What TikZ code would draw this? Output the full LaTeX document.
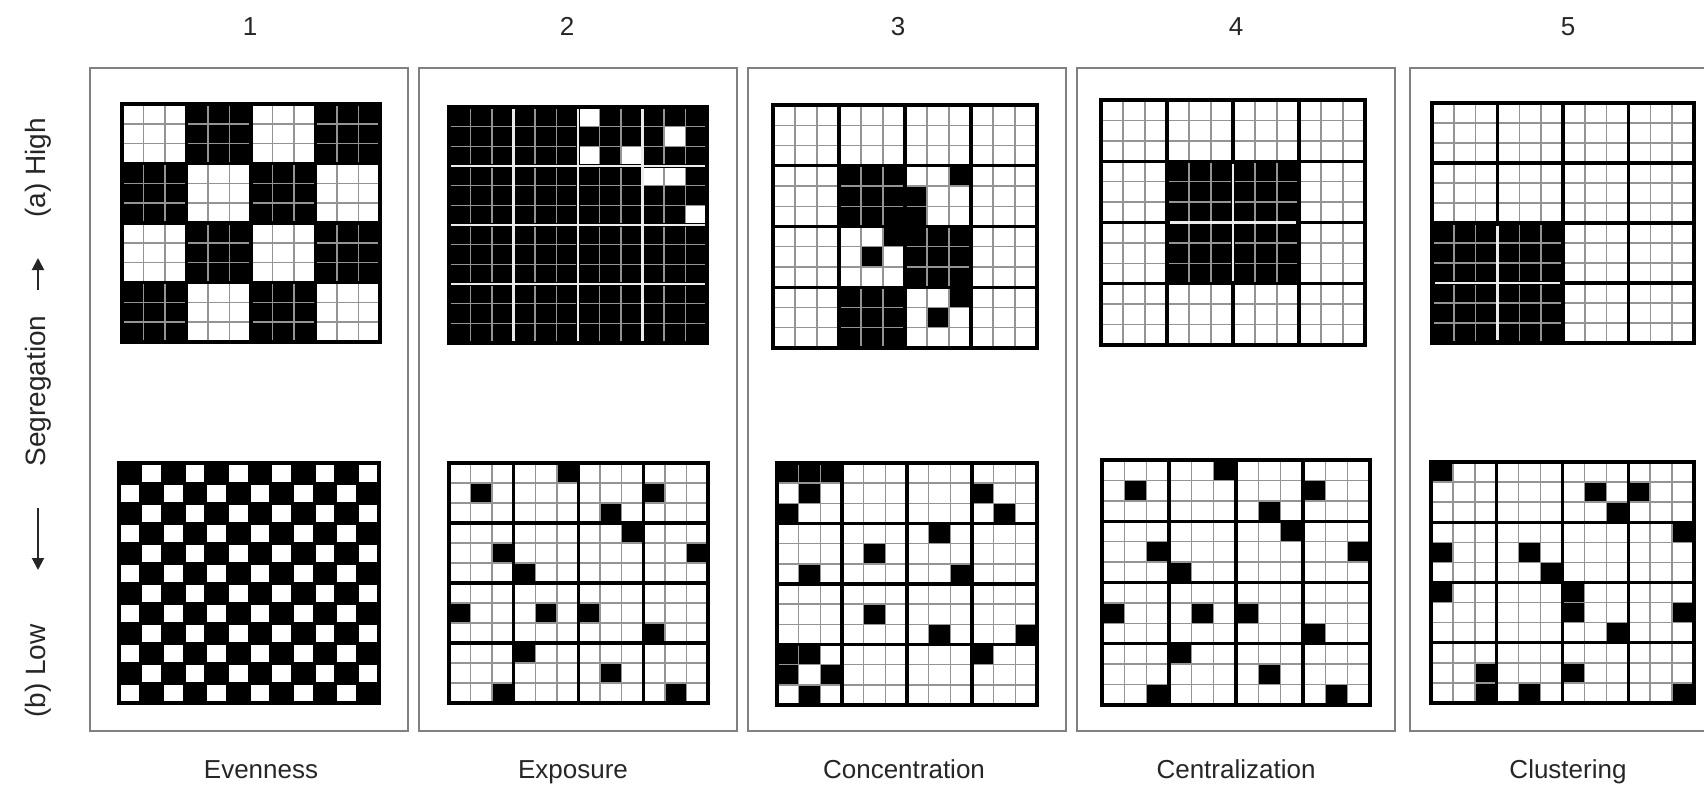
\documentclass[tikz,border=0pt]{standalone}
\usepackage{fontspec}
\setmainfont{Liberation Sans}
\usetikzlibrary{arrows.meta}

\tikzset{
  panel/.style={draw=black!50, line width=1.8pt, inner sep=0pt, anchor=north west},
  lbl/.style={font=\fontsize{26}{30}\selectfont, text=black!85, inner sep=0pt, anchor=base},
  vlbl/.style={font=\fontsize{28}{32}\selectfont, text=black!85, inner sep=0pt, rotate=90},
  cellline/.style={draw=black!42, line width=1.4pt},
  blockline/.style={draw=black, line width=3.2pt},
  gapline/.style={draw=white!92!black, line width=2.6pt},
  outerline/.style={draw=black, line width=3.6pt},
  segarrow/.style={draw=black!85, line width=2pt, -{Triangle[length=12pt,width=12pt]}},
}

\newcommand{\blkrect}[1]{\foreach \ra/\ca/\rb/\cb in {#1}{\fill[black] (\ca,\ra) rectangle (\cb,\rb);}}
\newcommand{\blkcell}[1]{\foreach \ra/\ca in {#1}{\fill[black] (\ca,\ra) rectangle ++(1,1);}}
\newcommand{\whtcell}[1]{\foreach \ra/\ca in {#1}{\fill[white] (\ca,\ra) rectangle ++(1,1);}}

% #1 x0, #2 y0, #3 x1, #4 y1, #5 scope options, #6 fills, #7 extra drawing after block lines
\newcommand{\cellgrid}[7]{%
  \pgfmathsetmacro\gcw{(#3-#1)/12}%
  \pgfmathsetmacro\gch{(#4-#2)/12}%
  \begin{scope}[shift={(#1,#2)}, x=\gcw pt, y=-\gch pt, #5]
    \fill[white] (0,0) rectangle (12,12);
    #6
    \foreach \i in {1,2,4,5,7,8,10,11} {\draw[cellline] (\i,0) -- (\i,12); \draw[cellline] (0,\i) -- (12,\i);}
    \foreach \i in {3,6,9} {\draw[blockline] (\i,0) -- (\i,12); \draw[blockline] (0,\i) -- (12,\i);}
    #7
    \draw[outerline] (0,0) rectangle (12,12);
  \end{scope}%
}

\begin{document}
\begin{tikzpicture}[x=1pt, y=-1pt]
\useasboundingbox (0,0) rectangle (1704,789);
\fill[white] (0,0) rectangle (1704,789);

% panels
\node[panel, minimum width=318pt, minimum height=663pt] (p1) at (89,67) {};
\node[panel, minimum width=318pt, minimum height=663pt] (p2) at (418,67) {};
\node[panel, minimum width=318pt, minimum height=663pt] (p3) at (747,67) {};
\node[panel, minimum width=318pt, minimum height=663pt] (p4) at (1076,67) {};
\node[panel, minimum width=318pt, minimum height=663pt] (p5) at (1409,67) {};

% column numbers
\node[lbl] (n1) at (250,36) {1};
\node[lbl] (n2) at (567,36) {2};
\node[lbl] (n3) at (898,36) {3};
\node[lbl] (n4) at (1236,36) {4};
\node[lbl] (n5) at (1568,36) {5};

% bottom labels
\node[lbl] (l1) at (261,778) {Evenness};
\node[lbl] (l2) at (573,778) {Exposure};
\node[lbl] (l3) at (904,778) {Concentration};
\node[lbl] (l4) at (1236,778) {Centralization};
\node[lbl] (l5) at (1568,778) {Clustering};

% left axis label
\node[vlbl] (high) at (38,168) {(a) High};
\node[vlbl] (seg) at (38,391) {Segregation};
\node[vlbl] (low) at (38,671) {(b) Low};
\coordinate (upS) at (38,290);
\coordinate (upE) at (38,258);
\coordinate (dnS) at (38,508);
\coordinate (dnE) at (38,570);
\draw[segarrow] (upS) -- (upE);
\draw[segarrow] (dnS) -- (dnE);

% ---------- top row (a) High ----------
% 1 Evenness
\cellgrid{122}{104}{380}{342}{}{%
  \blkrect{0/3/3/6, 0/9/3/12, 3/0/6/3, 3/6/6/9, 6/3/9/6, 6/9/9/12, 9/0/12/3, 9/6/12/9}%
}{}
% 2 Exposure
\cellgrid{449}{107}{707}{343}{}{%
  \blkrect{0/0/12/12}%
  \whtcell{0/6, 2/6, 2/8, 1/10, 3/9, 3/10, 5/11}%
}{%
  \foreach \i in {3,6,9} {\draw[gapline] (\i,0) -- (\i,12); \draw[gapline] (0,\i) -- (12,\i);}%
}
% 3 Concentration
\cellgrid{773}{105}{1037}{348}{}{%
  \blkrect{3/3/6/6, 6/6/9/9, 9/3/12/6}%
  \blkcell{3/8, 4/6, 5/6, 6/5, 7/4, 9/8, 10/7}%
}{}
% 4 Centralization
\cellgrid{1101}{100}{1365}{345}{}{%
  \blkrect{3/3/9/9}%
}{%
  \draw[gapline, shorten <=3pt, shorten >=3pt] (6,3) -- (6,9);
  \draw[gapline, shorten <=3pt, shorten >=3pt] (3,6) -- (9,6);
}
% 5 Clustering
\cellgrid{1432}{103}{1694}{343}{}{%
  \blkrect{6/0/12/6}%
}{%
  \draw[gapline, shorten <=3pt, shorten >=3pt] (3,6) -- (3,12);
  \draw[gapline, shorten <=3pt, shorten >=3pt] (0,9) -- (6,9);
}

% ---------- bottom row (b) Low ----------
% 1 Evenness
\cellgrid{119}{463}{379}{703}{cellline/.style={draw=black, line width=3pt}, blockline/.style={draw=black, line width=3pt}}{%
  \foreach \r in {0,2,...,10} {\foreach \c in {0,2,...,10} {%
    \fill[black] (\c,\r) rectangle ++(1,1);
    \fill[black] (\c+1,\r+1) rectangle ++(1,1);}}%
}{}
% 2 Exposure
\cellgrid{449}{463}{708}{703}{}{%
  \blkcell{0/5, 1/1, 1/9, 2/7, 3/8, 4/2, 4/11, 5/3, 7/0, 7/4, 7/6, 8/9, 9/3, 10/7, 11/2, 11/10}%
}{}
% 3 Concentration
\cellgrid{777}{463}{1037}{705}{}{%
  \blkcell{0/0, 0/1, 0/2, 1/1, 2/0, 1/9, 2/10, 3/7, 4/4, 5/1, 5/8, 7/4, 8/7, 8/11, 9/0, 9/1, 10/0, 10/2, 11/1, 9/9}%
}{}
% 4 Centralization
\cellgrid{1102}{460}{1370}{705}{}{%
  \blkcell{0/5, 1/1, 1/9, 2/7, 3/8, 4/2, 4/11, 5/3, 7/0, 7/4, 7/6, 8/9, 9/3, 10/7, 11/2, 11/10}%
}{}
% 5 Clustering
\cellgrid{1431}{462}{1694}{703}{}{%
  \blkcell{0/0, 1/7, 1/9, 2/8, 3/11, 4/0, 4/4, 5/5, 6/0, 6/6, 7/6, 7/11, 8/8, 10/2, 11/2, 11/4, 10/6, 11/11}%
}{}

\end{tikzpicture}
\end{document}
